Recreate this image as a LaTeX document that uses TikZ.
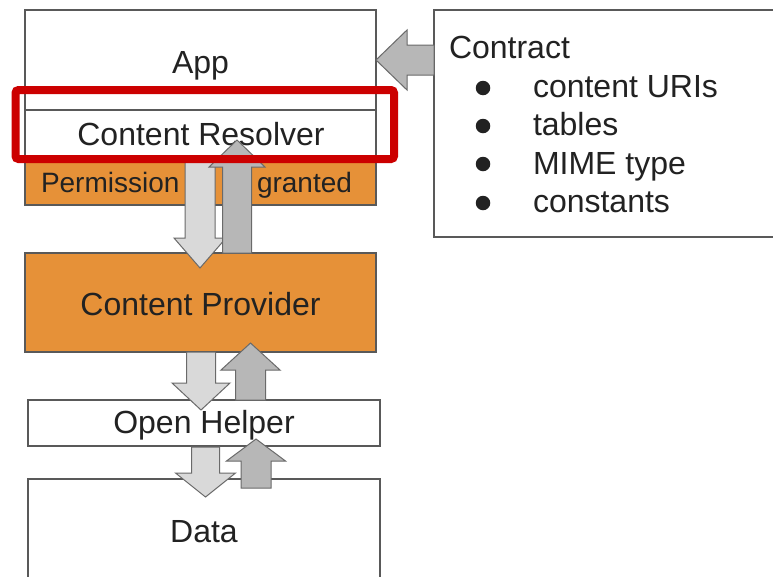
\documentclass[tikz,border=0pt]{standalone}
\usepackage{fontspec}
\setmainfont{Liberation Sans}
\definecolor{orangeC}{HTML}{E69138}
\definecolor{lightA}{HTML}{D9D9D9}
\definecolor{darkA}{HTML}{B7B7B7}
\definecolor{edgeC}{HTML}{595959}
\definecolor{redC}{HTML}{CC0000}
\definecolor{txtC}{HTML}{222222}
% vertical block arrow: style, x, ystart, yheadbase, ytip, shaft half, head half
\newcommand\vblockarrow[7]{%
  \draw[#1] ({#2-#6},#3) -- ({#2-#6},#4) -- ({#2-#7},#4) -- (#2,#5)
    -- ({#2+#7},#4) -- ({#2+#6},#4) -- ({#2+#6},#3) -- cycle;}
\begin{document}
\begin{tikzpicture}[x=1pt,y=-1pt,
  box/.style={draw=edgeC, line width=1.3pt, inner sep=0pt, outer sep=0pt, anchor=north west, fill=white},
  label/.style={text=txtC, inner sep=0pt, outer sep=0pt, font=\fontsize{32}{38}\selectfont},
  small/.style={text=txtC, inner sep=0pt, outer sep=0pt, font=\fontsize{28}{34}\selectfont},
  bulletdot/.style={circle, fill=txtC, inner sep=0pt, outer sep=0pt, minimum size=14.5pt},
  lightarrow/.style={fill=lightA, draw=edgeC!90, line width=1pt, line join=miter},
  darkarrow/.style={fill=darkA, draw=edgeC!90, line width=1pt, line join=miter}]
\clip (0,0) rectangle (773,576);
\fill[white] (0,0) rectangle (773,576);
% boxes
\node[box, minimum width=351pt, minimum height=100pt] (app) at (25,10) {};
\node[box, minimum width=351pt, minimum height=48pt] (resolver) at (25,110) {};
\node[box, fill=orangeC, minimum width=351pt, minimum height=47pt] (perm) at (25,158) {};
\node[box, fill=orangeC, minimum width=351pt, minimum height=99pt] (provider) at (25,253) {};
\node[box, minimum width=352pt, minimum height=46pt] (helper) at (28,400) {};
\node[box, minimum width=352pt, minimum height=140pt] (data) at (28,479) {};
\node[box, minimum width=360pt, minimum height=227pt] (contract) at (434,10) {};
% texts
\node[label, anchor=base] (tapp) at (200.5,73) {App};
\node[label, anchor=base] (tres) at (201,145) {Content Resolver};
\node[small, anchor=base west] (tperm) at (41,192) {Permission};
\node[small, anchor=base east] (tgrant) at (352,192) {granted};
\node[label, anchor=base] (tprov) at (200.5,315) {Content Provider};
\node[label, anchor=base] (thelp) at (204,433) {Open Helper};
\node[label, anchor=base] (tdata) at (204,542) {Data};
\node[label, anchor=base west] (tcon) at (449,58) {Contract};
\node[label, anchor=base west] (i1) at (533,97) {content URIs};
\node[label, anchor=base west] (i2) at (533,135) {tables};
\node[label, anchor=base west] (i3) at (533,174) {MIME type};
\node[label, anchor=base west] (i4) at (533,212) {constants};
\node[bulletdot] (b1) at (483,88) {};
\node[bulletdot] (b2) at (483,126) {};
\node[bulletdot] (b3) at (483,164) {};
\node[bulletdot] (b4) at (483,203) {};
% contract -> app arrow
\draw[darkarrow] (contract.west |- 0,45) -- (407,45) -- (407,30) -- (app.east |- 0,60)
  -- (407,90) -- (407,75) -- (contract.west |- 0,75) -- cycle;
% resolver <-> provider
\vblockarrow{lightarrow}{200}{160}{238}{268}{15}{26}
\vblockarrow{darkarrow}{237}{253}{167}{140}{14.5}{28}
% provider <-> helper
\vblockarrow{lightarrow}{201}{352}{383}{410}{14.5}{29}
\vblockarrow{darkarrow}{250.5}{400}{370}{343}{15}{29.5}
% helper <-> data
\vblockarrow{lightarrow}{205.5}{447}{473}{497}{14}{30}
\vblockarrow{darkarrow}{256}{488}{461}{439}{15}{29.5}
% highlight
\node[draw=redC, line width=8pt, rounded corners=3pt, inner sep=0pt, outer sep=0pt,
  anchor=north west, minimum width=378.5pt, minimum height=69pt] (hl) at (15.5,90) {};
\end{tikzpicture}
\end{document}
